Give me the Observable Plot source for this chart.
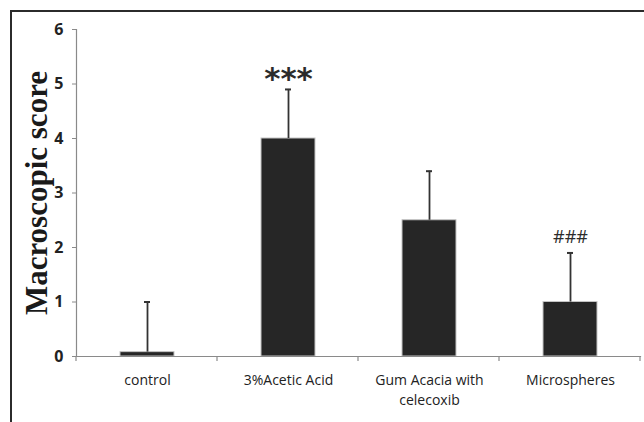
<!DOCTYPE html>
<html>
<head>
<meta charset="utf-8">
<script src="https://cdn.jsdelivr.net/npm/d3@7"></script>
<script src="https://cdn.jsdelivr.net/npm/@observablehq/plot@0.6"></script>
<style>
  html, body { margin: 0; padding: 0; background: #fff; }
  #wrap { position: relative; width: 644px; height: 422px; overflow: hidden; }
  #wrap .edge { position: absolute; left: 10px; top: 10px; width: 640px; height: 420px;
    border-top: 2px solid #2b2b2b; border-left: 2px solid #2b2b2b; pointer-events: none; }
</style>
</head>
<body>
<div id="wrap"><div class="edge"></div></div>
<script>
// Groups and their mean macroscopic scores with upper error limits
const groups = ["control", "3%Acetic Acid", "Gum Acacia with celecoxib", "Microspheres"];
const groupLabels = ["control", "3%Acetic Acid", "Gum Acacia with\ncelecoxib", "Microspheres"];
const means = [0.08, 4.0, 2.5, 1.0];
const upper = [1.0, 4.9, 3.4, 1.9];
const marks = ["", "***", "", "###"];
const yTicks = [0, 1, 2, 3, 4, 5, 6];

const data = groups.map((g, i) => ({group: g, mean: means[i], upper: upper[i], mark: marks[i]}));
const labelOf = new Map(groups.map((g, i) => [g, groupLabels[i]]));

// Short downward ticks at the boundaries between categories
function boundaryTicks(index, scales, values, dims) {
  const {width, height, marginLeft, marginRight, marginBottom} = dims;
  const n = groups.length;
  const step = (width - marginLeft - marginRight) / n;
  const y0 = height - marginBottom;
  const g = d3.create("svg:g").attr("stroke", "#8a8a8a").attr("stroke-width", 1.2);
  for (let i = 0; i <= n; i++) {
    const x = marginLeft + i * step;
    g.append("line").attr("x1", x).attr("x2", x).attr("y1", y0).attr("y2", y0 + 5);
  }
  return g.node();
}

const chart = Plot.plot({
  width: 644,
  height: 422,
  marginLeft: 76,
  marginRight: 4,
  marginTop: 29,
  marginBottom: 66,
  style: {background: "#fff", overflow: "visible"},
  x: {domain: groups, paddingInner: 0.62, paddingOuter: 0.31},
  y: {domain: [0, 6]},
  marks: [
    Plot.frame({anchor: "left", stroke: "#8a8a8a", strokeWidth: 1.2}),
    Plot.barY(data, {x: "group", y: "mean", fill: "#262626", stroke: "#c4c4c4", strokeWidth: 1}),
    Plot.frame({anchor: "bottom", stroke: "#8a8a8a", strokeWidth: 1.2}),
    boundaryTicks,
    Plot.ruleX(data, {x: "group", y1: "mean", y2: "upper", stroke: "#333", strokeWidth: 1.8}),
    Plot.tickY(data, {x: "group", y: "upper", stroke: "#333", strokeWidth: 2, insetLeft: 24, insetRight: 24}),
    Plot.text(data.filter(d => d.mark === "***"), {
      x: "group", y: "upper", text: "mark", dy: -10,
      fontSize: 31, fontWeight: "bold", fontFamily: "DejaVu Sans, sans-serif", fill: "#2b2b2b"
    }),
    Plot.text(data.filter(d => d.mark === "###"), {
      x: "group", y: "upper", text: "mark", dy: -16,
      fontSize: 18, fontFamily: "Open Sans, sans-serif", fill: "#2b2b2b"
    }),
    Plot.axisY({
      ticks: yTicks, tickFormat: d3.format("d"), tickSize: 4, tickPadding: 9, stroke: "#8a8a8a",
      fontSize: 16, fontWeight: "bold", fontFamily: "Open Sans, sans-serif", fill: "#222",
      label: null
    }),
    Plot.axisX({
      tickSize: 0, tickPadding: 15, lineAnchor: "top", lineHeight: 1.4,
      tickFormat: g => labelOf.get(g),
      fontSize: 14, fontFamily: "Open Sans, sans-serif", fill: "#222", label: null
    }),
    Plot.text(["Macroscopic score"], {
      frameAnchor: "left", dx: -39, rotate: -90, textAnchor: "middle",
      fontSize: 31, fontWeight: "bold", fontFamily: "Liberation Serif, Times New Roman, serif", fill: "#1a1a1a"
    })
  ]
});

document.getElementById("wrap").prepend(chart);
</script>
</body>
</html>
